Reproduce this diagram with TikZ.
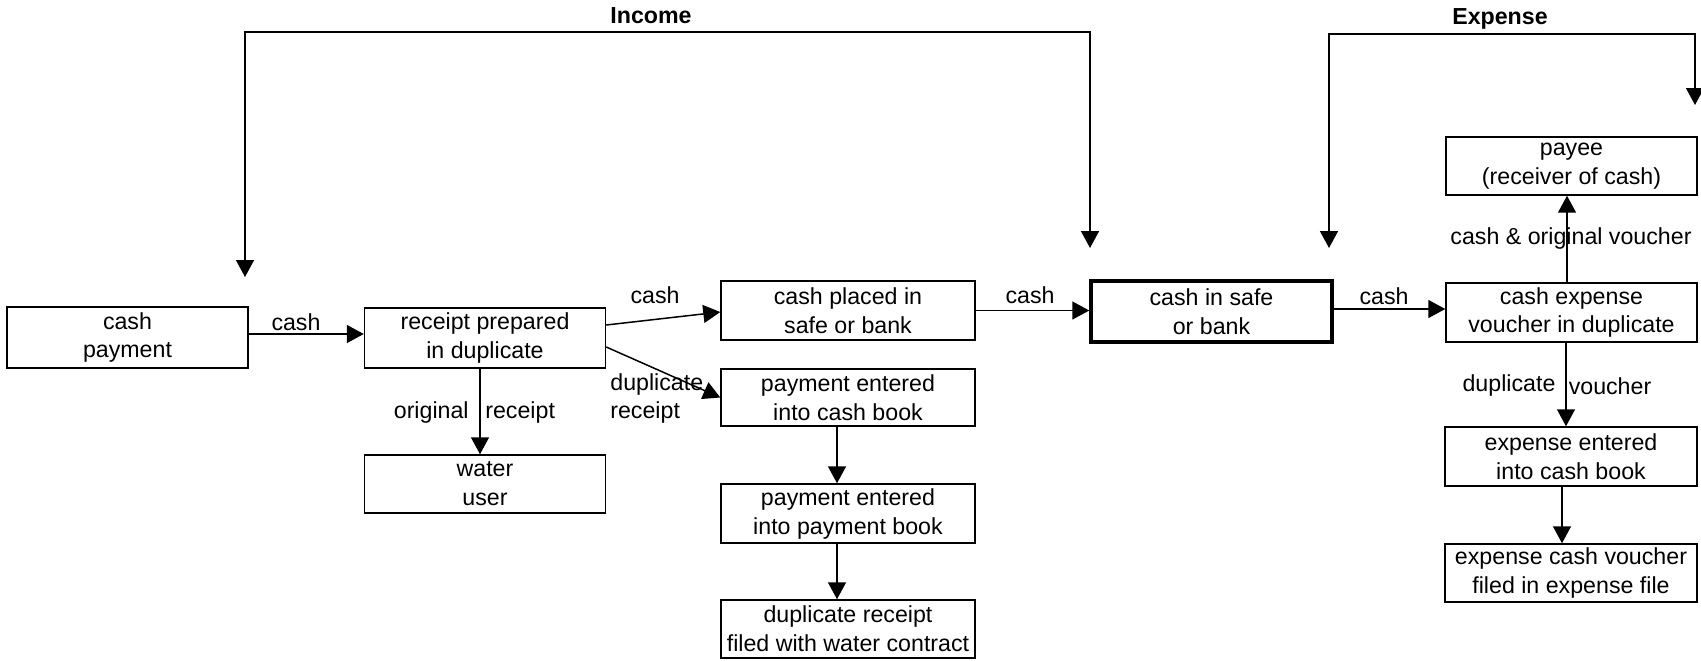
\documentclass[tikz,border=0pt]{standalone}
\usepackage{fontspec}
\setmainfont{Liberation Sans}
\usetikzlibrary{arrows.meta,calc}
\begin{document}
\begin{tikzpicture}[x=0.02cm,y=-0.02cm,
  font=\fontsize{13.2}{16.5}\selectfont,
  box/.style={draw,line width=0.03cm,align=center,inner sep=0pt,minimum height=1.18cm},
  safebox/.style={box,line width=0.07cm},
  lbl/.style={inner sep=0pt},
  tip/.tip={Triangle[length=0.34cm,width=0.36cm]},
  flow/.style={line width=0.03cm,-tip},
  bracket/.style={line width=0.03cm,tip-tip},
  head/.style={font=\fontsize{13.2}{16.5}\selectfont\bfseries,inner sep=0pt}]
\useasboundingbox (0,0) rectangle (1701,660);

% income side
\node[box,minimum width=4.82cm,minimum height=1.22cm] (pay) at (127.5,337.5) {cash\\payment};
\node[box,minimum width=4.82cm,minimum height=1.2cm] (rec) at (485,338) {receipt prepared\\in duplicate};
\node[box,minimum width=4.82cm,minimum height=1.16cm] (user) at (485,484) {water\\user};
\node[box,minimum width=5.08cm] (placed) at (848,310.5) {cash placed in\\safe or bank};
\node[box,minimum width=5.08cm,minimum height=1.14cm] (cashbk) at (848,397.5) {payment entered\\into cash book};
\node[box,minimum width=5.08cm] (paybk) at (848,513.5) {payment entered\\into payment book};
\node[box,minimum width=5.08cm,minimum height=1.16cm] (filed) at (848,629) {duplicate receipt\\filed with water contract};

% the cash store
\node[safebox,minimum width=4.82cm,minimum height=1.22cm] (safe) at (1211.5,311.5) {cash in safe\\or bank};

% expense side
\node[box,minimum width=5.02cm] (voucher) at (1571.5,312.5) {cash expense\\voucher in duplicate};
\node[box,minimum width=5.02cm,minimum height=1.16cm] (payee) at (1571.5,166) {payee\\(receiver of cash)};
\node[box,minimum width=5.04cm] (expbk) at (1571,456.5) {expense entered\\into cash book};
\node[box,minimum width=5.04cm,minimum height=1.16cm] (expfile) at (1571,573) {expense cash voucher\\filed in expense file};

% flows
\draw[flow] ($(pay.east)+(0,-3.5)$) -- ($(rec.west)+(0,-4)$);
\draw[flow] ($(rec.east)+(0,-13)$) -- ($(placed.west)+(0,1.5)$);
\draw[flow] ($(rec.east)+(0,9)$) -- (cashbk.west);
\draw[flow] ($(rec.south)+(-5,0)$) -- ($(user.north)+(-5,0)$);
\draw[flow] (placed.east) -- (placed.east -| safe.west);
\draw[flow] ($(cashbk.south)+(-11,0)$) -- ($(paybk.north)+(-11,0)$);
\draw[flow] ($(paybk.south)+(-11,0)$) -- ($(filed.north)+(-11,0)$);
\draw[flow] ($(safe.east)+(0,-2.5)$) -- ($(voucher.west)+(0,-3.5)$);
\draw[flow] ($(voucher.north)+(-4.5,0)$) -- ($(payee.south)+(-4.5,0)$);
\draw[flow] ($(voucher.south)+(-5.5,0)$) -- ($(expbk.north)+(-5,0)$);
\draw[flow] ($(expbk.south)+(-9,0)$) -- ($(expfile.north)+(-9,0)$);

% flow labels
\node[lbl] (l1) at (296,322.5) {cash};
\node[lbl] (l2) at (655,295) {cash};
\node[lbl,align=left,anchor=west] (l3) at (610,398.5) {duplicate\\receipt};
\node[lbl,anchor=east] (l4) at (469,412.5) {original};
\node[lbl,anchor=west] (l5) at (485,412.5) {receipt};
\node[lbl] (l6) at (1030,295) {cash};
\node[lbl] (l7) at (1384,296) {cash};
\node[lbl] (l8) at (1571,238) {cash \& original voucher};
\node[lbl] (l9) at (1509,385) {duplicate};
\node[lbl] (l10) at (1610,386) {voucher};

% income and expense brackets
\coordinate (incA) at (245,277);
\coordinate (incB) at (1090,248);
\coordinate (incTop) at (0,32);
\draw[bracket] (incA) -- (incA |- incTop) -- (incB |- incTop) -- (incB);
\node[head] (income) at (651,16) {Income};

\coordinate (expA) at (1329,248);
\coordinate (expB) at (1695,105);
\coordinate (expTop) at (0,34);
\draw[bracket] (expA) -- (expA |- expTop) -- (expB |- expTop) -- (expB);
\node[head] (expense) at (1500,19) {Expense};
\end{tikzpicture}
\end{document}
